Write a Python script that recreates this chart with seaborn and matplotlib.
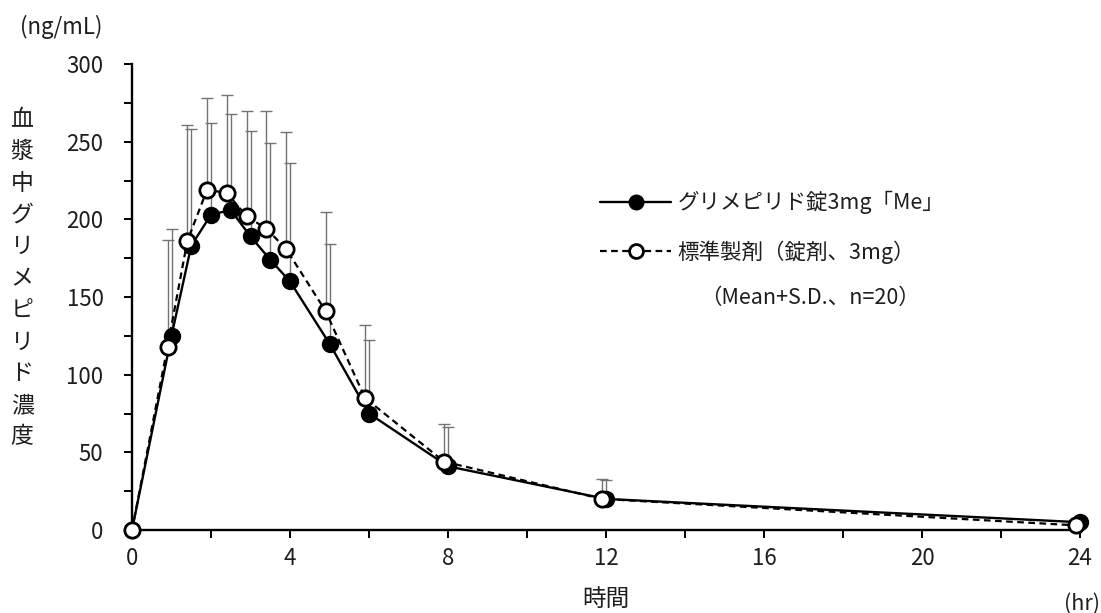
import numpy as np
import pandas as pd
import matplotlib
matplotlib.use("Agg")
import matplotlib.pyplot as plt
from matplotlib.lines import Line2D
import seaborn as sns

# Sampling times (hr)
time_hr = [0, 1, 1.5, 2, 2.5, 3, 3.5, 4, 5, 6, 8, 12, 24]

# Glimepiride tablet 3 mg "Me": mean and S.D. (ng/mL)
test_mean = [0, 125, 183, 203, 206, 189, 174, 160, 120, 75, 41, 20, 5]
test_sd = [0, 69, 75, 59, 62, 68, 75, 76, 64, 47, 25, 12, 2]

# Reference product (tablet, 3 mg): mean and S.D. (ng/mL)
ref_mean = [0, 118, 186, 219, 217, 202, 194, 181, 141, 85, 44, 20, 3]
ref_sd = [0, 69, 75, 59, 63, 68, 76, 75, 64, 47, 24, 13, 2]

series_labels = ["グリメピリド錠3mg「Me」", "標準製剤（錠剤、3mg）"]
stats_note = "（Mean+S.D.、n=20）"
y_title = "血漿中グリメピリド濃度"
y_unit = "(ng/mL)"
x_title = "時間"
x_unit = "(hr)"

x_ticks = [0, 4, 8, 12, 16, 20, 24]
y_ticks = [0, 50, 100, 150, 200, 250, 300]

sns.set_style("ticks")
plt.rcParams["font.family"] = ["Noto Sans CJK JP", "DejaVu Sans"]

TEXT = "#1e1e1e"

fig = plt.figure(figsize=(11.01, 6.13), dpi=100)
ax = fig.add_axes([132 / 1101, 83 / 613, 948 / 1101, 466 / 613])

t = np.array(time_hr, dtype=float)
# open markers sit slightly left of the nominal time so both series stay visible
dodge = np.where(t > 0, t - 0.1, t)

df_test = pd.DataFrame({"time": t, "conc": test_mean})
df_ref = pd.DataFrame({"time": dodge, "conc": ref_mean})

err_kw = dict(fmt="none", ecolor="#737373", elinewidth=1.0, capsize=4.5,
              capthick=1.0, zorder=1, clip_on=False)
mask = t > 0
ax.errorbar(t[mask], np.array(test_mean)[mask],
            yerr=[np.zeros(mask.sum()), np.array(test_sd)[mask]], **err_kw)
ax.errorbar(dodge[mask], np.array(ref_mean)[mask],
            yerr=[np.zeros(mask.sum()), np.array(ref_sd)[mask]], **err_kw)

sns.lineplot(data=df_test, x="time", y="conc", ax=ax, color="black",
             linewidth=1.7, marker="o", markersize=11, markerfacecolor="black",
             markeredgecolor="black", markeredgewidth=1.5, clip_on=False,
             zorder=3, errorbar=None, legend=False)
sns.lineplot(data=df_ref, x="time", y="conc", ax=ax, color="black",
             linewidth=1.6, linestyle=(0, (3, 2)), marker="o", markersize=11,
             markerfacecolor="white", markeredgecolor="black",
             markeredgewidth=2.0, clip_on=False, zorder=4, errorbar=None,
             legend=False)

ax.set_xlim(0, 24)
ax.set_ylim(0, 300)
ax.set_xticks(x_ticks)
ax.set_yticks(y_ticks)
ax.set_xticks(np.arange(0, 25, 2), minor=True)
ax.set_yticks(np.arange(0, 301, 25), minor=True)
ax.set_xlabel("")
ax.set_ylabel("")
for side in ("top", "right"):
    ax.spines[side].set_visible(False)
for side in ("left", "bottom"):
    ax.spines[side].set_linewidth(1.7)
    ax.spines[side].set_color("black")
ax.tick_params(axis="both", which="both", direction="out", length=5.5,
               width=1.4, color="black")
ax.tick_params(axis="x", which="major", pad=7, labelsize=16, labelcolor=TEXT)
ax.tick_params(axis="y", which="major", pad=15, labelsize=16, labelcolor=TEXT)

# legend
handles = [
    Line2D([], [], color="black", lw=1.7, marker="o", ms=10,
           mfc="black", mec="black", mew=1.5),
    Line2D([], [], color="black", lw=1.6, ls=(0, (3, 2)), marker="o", ms=10,
           mfc="white", mec="black", mew=2.0),
]
leg = ax.legend(handles, series_labels, loc="upper left",
                bbox_to_anchor=(600 / 1101, 1 - 191 / 613),
                bbox_transform=fig.transFigure, frameon=False, fontsize=15.5,
                handlelength=3.3, handletextpad=0.3, labelspacing=1.2,
                borderpad=0, borderaxespad=0)
for txt in leg.get_texts():
    txt.set_color(TEXT)
fig.text(700 / 1101, 1 - 298 / 613, stats_note, fontsize=15.5,
         ha="left", va="center", color=TEXT)

# axis titles
fig.text(61 / 1101, 1 - 27 / 613, y_unit, fontsize=16, ha="center",
         va="center", color=TEXT)
for i, ch in enumerate(y_title):
    fig.text(22 / 1101, 1 - (120 + i * 31.7) / 613, ch, fontsize=16.5,
             ha="center", va="center", color=TEXT)
fig.text(606 / 1101, 1 - 599 / 613, x_title, fontsize=17, ha="center",
         va="center", color=TEXT)
fig.text(1082 / 1101, 1 - 604 / 613, x_unit, fontsize=15.5, ha="center",
         va="center", color=TEXT)

fig.savefig("out.png", dpi=100)
